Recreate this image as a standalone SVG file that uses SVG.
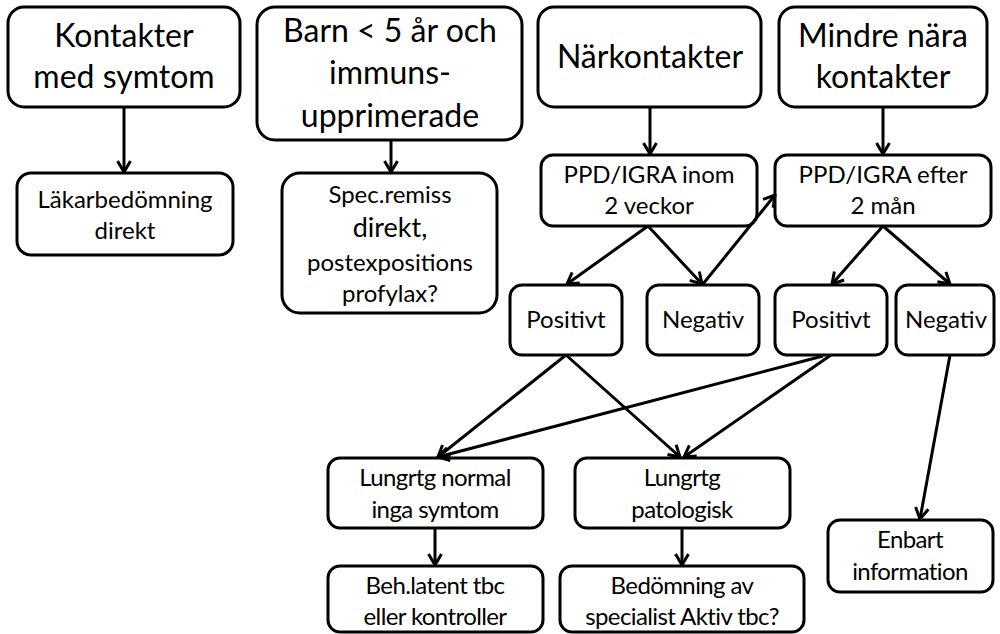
<svg xmlns="http://www.w3.org/2000/svg" width="1000" height="634" viewBox="0 0 1000 634">
<defs>
<marker id="ah" markerUnits="userSpaceOnUse" markerWidth="16" markerHeight="16" viewBox="0 0 16 16" refX="14" refY="8" orient="auto">
<path d="M3,1.5 L14,8 L3,14.5" fill="none" stroke="#000" stroke-width="3" stroke-linejoin="miter"/>
</marker>
<style>
.b{fill:#fff;stroke:#000;stroke-width:3}
.t{font-family:Lato,"Liberation Sans",sans-serif;fill:#000;text-anchor:middle}
.L{font-size:32px}
.M{font-size:24px}
.S{font-size:24px;letter-spacing:-0.6px}
.c line{stroke:#000;stroke-width:3;marker-end:url(#ah)}
</style>
</defs>
<rect width="1000" height="634" fill="#fff"/>
<g id="n1"><rect class="b" x="8" y="7" width="232" height="100" rx="16"/>
<text class="t L" x="124" y="47">Kontakter</text><text class="t L" x="124" y="88">med symtom</text></g>
<g id="n2"><rect class="b" x="17" y="173" width="216" height="82" rx="14"/>
<text class="t M" x="125" y="208">Läkarbedömning</text><text class="t M" x="125" y="239">direkt</text></g>
<g id="n3"><rect class="b" x="257" y="7" width="265" height="133" rx="18"/>
<text class="t L" x="390" y="42">Barn &lt; 5 år och</text><text class="t L" x="390" y="84">immuns-</text><text class="t L" x="390" y="127">upprimerade</text></g>
<g id="n4"><rect class="b" x="282" y="173" width="215" height="140" rx="18"/>
<text class="t M" x="390" y="203">Spec.remiss</text><text class="t" style="font-size:27px" x="390" y="237">direkt,</text><text class="t M" x="390" y="271">postexpositions</text><text class="t M" x="390" y="302">profylax?</text></g>
<g id="n5"><rect class="b" x="538" y="7" width="223" height="100" rx="16"/>
<text class="t L" x="650" y="68">Närkontakter</text></g>
<g id="n6"><rect class="b" x="779" y="7" width="208" height="100" rx="16"/>
<text class="t L" x="883" y="47">Mindre nära</text><text class="t L" x="883" y="88">kontakter</text></g>
<g id="n7"><rect class="b" x="541" y="155" width="216" height="71" rx="12"/>
<text class="t M" x="649" y="183">PPD/IGRA inom</text><text class="t M" x="649" y="214">2 veckor</text></g>
<g id="n8"><rect class="b" x="775" y="155" width="216" height="71" rx="12"/>
<text class="t M" x="883" y="183">PPD/IGRA efter</text><text class="t M" x="883" y="214">2 mån</text></g>
<g id="n9"><rect class="b" x="510" y="285" width="112" height="70" rx="12"/>
<text class="t M" x="566" y="328">Positivt</text></g>
<g id="n10"><rect class="b" x="647" y="285" width="112" height="70" rx="12"/>
<text class="t M" x="703" y="328">Negativ</text></g>
<g id="n11"><rect class="b" x="775" y="285" width="112" height="70" rx="12"/>
<text class="t M" x="831" y="328">Positivt</text></g>
<g id="n12"><rect class="b" x="896" y="285" width="98" height="70" rx="12"/>
<text class="t M" x="946" y="328">Negativ</text></g>
<g id="n13"><rect class="b" x="328" y="458" width="215" height="70" rx="12"/>
<text class="t S" x="435" y="486">Lungrtg normal</text><text class="t S" x="435" y="518">inga symtom</text></g>
<g id="n14"><rect class="b" x="575" y="458" width="215" height="70" rx="12"/>
<text class="t S" x="682" y="486">Lungrtg</text><text class="t S" x="682" y="518">patologisk</text></g>
<g id="n15"><rect class="b" x="328" y="566" width="215" height="66" rx="12"/>
<text class="t S" x="435" y="594">Beh.latent tbc</text><text class="t S" x="435" y="625">eller kontroller</text></g>
<g id="n16"><rect class="b" x="560" y="566" width="244" height="66" rx="12"/>
<text class="t S" x="682" y="594">Bedömning av</text><text class="t S" x="682" y="625">specialist Aktiv tbc?</text></g>
<g id="n17"><rect class="b" x="828" y="520" width="165" height="72" rx="12"/>
<text class="t S" x="910" y="548">Enbart</text><text class="t S" x="910" y="580">information</text></g>
<g id="connectors" class="c">
<line x1="124" y1="107" x2="124" y2="172"/>
<line x1="391" y1="140" x2="391" y2="172"/>
<line x1="650" y1="107" x2="650" y2="154"/>
<line x1="883" y1="107" x2="883" y2="154"/>
<line x1="648" y1="226" x2="567" y2="284"/>
<line x1="648" y1="226" x2="702" y2="284"/>
<line x1="703" y1="284" x2="775" y2="195"/>
<line x1="883" y1="226" x2="832" y2="284"/>
<line x1="883" y1="226" x2="950" y2="284"/>
<line x1="566" y1="355" x2="438" y2="457"/>
<line x1="566" y1="355" x2="680" y2="457"/>
<line x1="823" y1="356" x2="438" y2="457"/>
<line x1="831" y1="355" x2="684" y2="457"/>
<line x1="950" y1="355" x2="920" y2="519"/>
<line x1="435" y1="528" x2="435" y2="565"/>
<line x1="682" y1="528" x2="682" y2="565"/>
</g>
</svg>
